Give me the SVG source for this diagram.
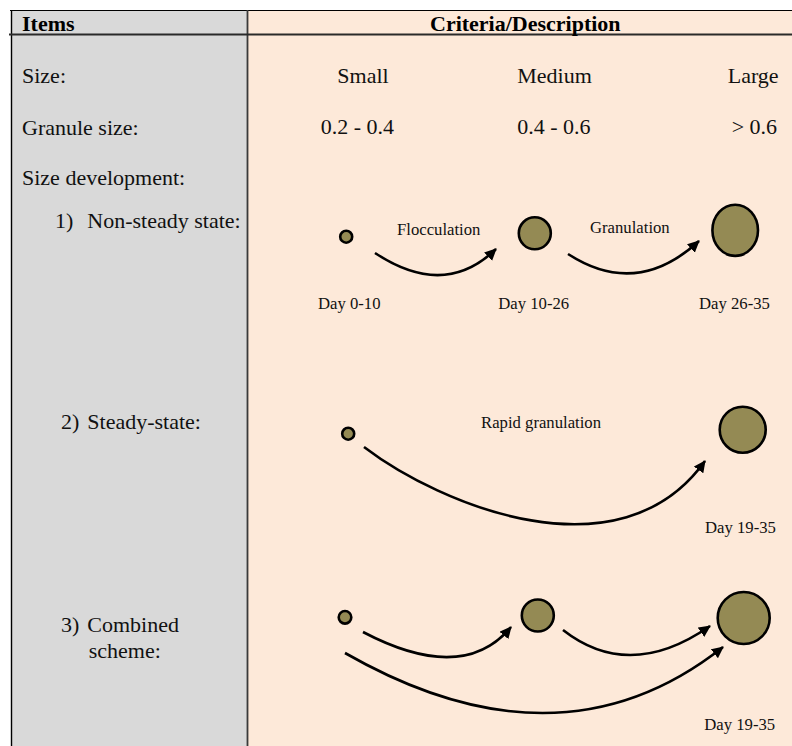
<svg xmlns="http://www.w3.org/2000/svg" width="792" height="746" viewBox="0 0 792 746">
<style>
text{font-family:"Liberation Serif","Times New Roman",serif;fill:#111}
.main{font-size:22px}
.hd{font-size:22px;font-weight:bold;fill:#000}
.sm{font-size:16.7px}
.g{fill:#948a54;stroke:#000;stroke-width:2.6}
.a{fill:none;stroke:#000;stroke-width:2.6;marker-end:url(#ah)}
</style>
<defs>
<marker id="ah" markerUnits="userSpaceOnUse" markerWidth="13" markerHeight="12" refX="11" refY="5.75" orient="auto" viewBox="0 0 13 12">
<path d="M0,0 L12,5.75 L0,11.5 z" fill="#000"/>
</marker>
</defs>
<g id="table">
<rect x="12" y="10" width="236" height="736" fill="#d9d9d9"/>
<rect x="248" y="10" width="544" height="736" fill="#fde9d9"/>
<line x1="10" y1="10.5" x2="792" y2="10.5" stroke="#000" stroke-width="1.2"/>
<line x1="11.5" y1="10" x2="11.5" y2="746" stroke="#000" stroke-width="1.4"/>
<line x1="247.5" y1="10" x2="247.5" y2="746" stroke="#3a3a3a" stroke-width="1.8"/>
<line x1="9" y1="34.6" x2="792" y2="34.6" stroke="#2a2a2a" stroke-width="2"/>
</g>
<g id="labels">
<text class="hd" x="22" y="31">Items</text>
<text class="hd" x="430" y="31">Criteria/Description</text>
<text class="main" x="22" y="82.5">Size:</text>
<text class="main" x="22" y="134.5">Granule size:</text>
<text class="main" x="22" y="185">Size development:</text>
<text class="main" x="55" y="228">1)</text>
<text class="main" x="87.3" y="228">Non-steady state:</text>
<text class="main" x="61" y="429">2)</text>
<text class="main" x="87.3" y="429">Steady-state:</text>
<text class="main" x="61" y="632">3)</text>
<text class="main" x="87.3" y="632">Combined</text>
<text class="main" x="88.7" y="658">scheme:</text>
<text class="main" x="337.3" y="82.5">Small</text>
<text class="main" x="517.3" y="82.5">Medium</text>
<text class="main" x="727.7" y="82.5">Large</text>
<text class="main" x="320.7" y="133.8">0.2 - 0.4</text>
<text class="main" x="517.3" y="133.8">0.4 - 0.6</text>
<text class="main" x="731.7" y="133.8">&gt; 0.6</text>
</g>
<g id="row1">
<g id="n1-small"><circle class="g" cx="346.2" cy="236.7" r="6"/><text class="sm" x="318" y="309">Day 0-10</text></g>
<g id="n1-medium"><circle class="g" cx="534.8" cy="233.3" r="16"/><text class="sm" x="498.3" y="309">Day 10-26</text></g>
<g id="n1-large"><ellipse class="g" cx="735.2" cy="230.3" rx="22.8" ry="25.6"/><text class="sm" x="699" y="309">Day 26-35</text></g>
<text class="sm" x="397" y="235">Flocculation</text>
<text class="sm" x="590" y="233">Granulation</text>
</g>
<g id="row2">
<g id="n2-small"><circle class="g" cx="348.2" cy="433.7" r="6"/></g>
<g id="n2-large"><circle class="g" cx="742.7" cy="429.7" r="23"/><text class="sm" x="705" y="533">Day 19-35</text></g>
<text class="sm" x="481" y="428">Rapid granulation</text>
</g>
<g id="row3">
<g id="n3-small"><circle class="g" cx="345" cy="617.3" r="6.3"/></g>
<g id="n3-medium"><circle class="g" cx="537.8" cy="615.5" r="16"/></g>
<g id="n3-large"><circle class="g" cx="743.7" cy="618" r="26"/><text class="sm" x="704.3" y="730">Day 19-35</text></g>
</g>
<g id="connectors">
<path class="a" d="M375,253 Q444.5,299 496,249"/>
<path class="a" d="M568,254 Q636.5,298.5 699,241"/>
<path class="a" d="M364,447 C440,505 620,580 705,461"/>
<path class="a" d="M363,632 Q463,684.5 511,627"/>
<path class="a" d="M563,630 Q629.5,682 710,626"/>
<path class="a" d="M345,653 Q560,776 723,647"/>
</g>
</svg>
